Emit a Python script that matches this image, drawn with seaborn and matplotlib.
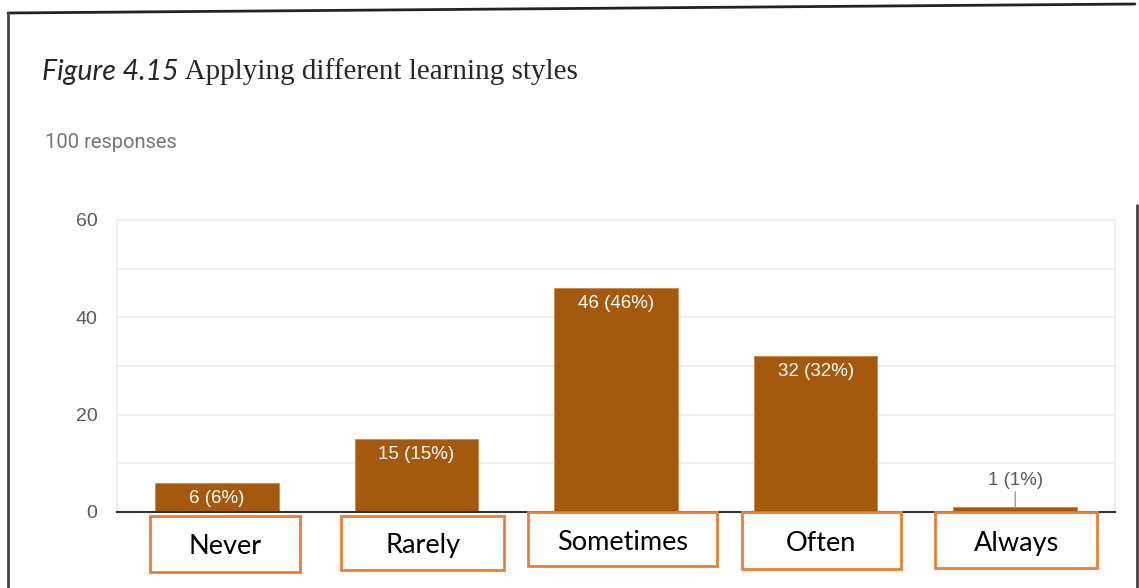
import matplotlib
matplotlib.use("Agg")
import matplotlib.pyplot as plt
import matplotlib.transforms as mtransforms
from matplotlib.patches import Rectangle
from matplotlib.lines import Line2D
import seaborn as sns
import pandas as pd

# datos del grafico
categorias = ["Never", "Rarely", "Sometimes", "Often", "Always"]
respuestas = [6, 15, 46, 32, 1]
total = 100

df = pd.DataFrame({"cat": categorias, "n": respuestas})

color_barra = "#a4590d"
naranja = "#ed7d31"

sns.set_style("white")
plt.rcParams["font.family"] = ["Liberation Sans", "DejaVu Sans"]

W, H = 1139, 588
fig = plt.figure(figsize=(W / 100, H / 100), dpi=100)
ax = fig.add_axes([117 / W, 76 / H, 998 / W, 292 / H])

sns.barplot(data=df, x="cat", y="n", color=color_barra, saturation=1,
            width=0.62, edgecolor="#c98645", linewidth=0.6, ax=ax)

ax.set_xlim(-0.5, 4.5)
ax.set_ylim(0, 60)
ax.set_yticks([0, 20, 40, 60])
ax.set_yticks([10, 30, 50], minor=True)
ax.grid(True, axis="y", which="both", color="#ececec", linewidth=1.2)
ax.set_axisbelow(True)
ax.tick_params(axis="y", which="both", length=0, pad=14, labelsize=14,
               labelcolor="#5a5a5a")
ax.set_xticks([])
ax.set_xlabel("")
ax.set_ylabel("")
for s in ["left", "top", "right"]:
    ax.spines[s].set_color("#ececec")
    ax.spines[s].set_linewidth(1.2)
ax.spines["bottom"].set_color("#333333")
ax.spines["bottom"].set_linewidth(1.5)

# etiquetas de las barras
for i, n in enumerate(respuestas):
    txt = f"{n} ({round(n * 100 / total)}%)"
    if n >= 5:
        ax.annotate(txt, (i, n), xytext=(0, -11), textcoords="offset points",
                    ha="center", va="center", color="white", fontsize=13.5)
    else:
        ax.annotate(txt, (i, n), xytext=(0, 19.5), textcoords="offset points",
                    ha="center", va="center", color="#5a5a5a", fontsize=13.5,
                    arrowprops=dict(arrowstyle="-", color="#9a9a9a", lw=1,
                                    shrinkA=0, shrinkB=0))

# cajas naranjas con las categorias
trans = mtransforms.blended_transform_factory(ax.transData, ax.transAxes)
caja_dx = [8, 6.5, 6.5, 5.5, 1]
caja_ancho = [150, 163, 189, 159, 162]
caja_arriba = [516, 516, 512, 512, 512]
caja_abajo = [572, 570, 566, 569, 568]
for i, c in enumerate(categorias):
    cx = i + caja_dx[i] / 199.6
    w = caja_ancho[i] / 199.6
    y0 = (512 - caja_abajo[i]) / 292
    y1 = (512 - caja_arriba[i]) / 292
    r = Rectangle((cx - w / 2, y0), w, y1 - y0, transform=trans,
                  facecolor="white", edgecolor=naranja, linewidth=2,
                  clip_on=False, zorder=5)
    ax.add_patch(r)
    ax.text(cx, (y0 + y1) / 2 - 3 / 292, c, transform=trans, ha="center",
            va="center", fontsize=19.5, family="Lato", color="black", zorder=6)

# titulo
t1 = fig.text(42 / W, 1 - 80 / H, "Figure 4.15", style="italic", family="Lato",
              fontsize=20.5, va="baseline")
ax.annotate(" Applying different learning styles", xy=(1, 0), xycoords=t1,
            va="bottom", ha="left", family="Liberation Serif", fontsize=21,
            annotation_clip=False)
fig.text(45 / W, 1 - 143 / H, "100 responses", family="Roboto", fontsize=14.5,
         color="#757575", va="center")

# marco de la pagina
fig.add_artist(Line2D([8 / W, 1135 / W], [1 - 13 / H, 1 - 4 / H],
                      color="#222222", lw=2))
fig.add_artist(Line2D([8 / W, 8 / W], [1 - 13 / H, 0], color="#444444", lw=2))
fig.add_artist(Line2D([1137 / W, 1137 / W], [1 - 205 / H, 0],
                      color="#444444", lw=2))

fig.savefig("out.png", dpi=100)
